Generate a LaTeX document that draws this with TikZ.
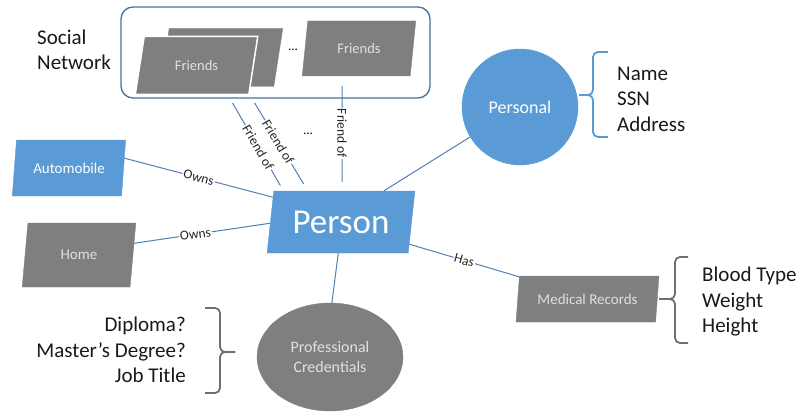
\documentclass[tikz,border=0pt]{standalone}
\usepackage{fontspec}
\setmainfont{Carlito}
\usetikzlibrary{shapes.geometric}
\definecolor{blueF}{HTML}{5B9BD5}
\definecolor{grayF}{HTML}{7F7F7F}
\definecolor{lineC}{HTML}{4F7FB5}
\definecolor{boxC}{HTML}{41719C}
\definecolor{braceG}{HTML}{6F6F6F}
\tikzset{
  para/.style={trapezium, trapezium stretches=true, inner sep=0pt},
  bluebox/.style={fill=blueF, draw=blueF, text=white},
  graybox/.style={fill=grayF, draw=grayF, text=white!88!black},
  conn/.style={draw=lineC, line width=1pt},
  lbl/.style={fill=white, inner sep=1pt, font=\fontsize{13.5}{15}\selectfont, text=black!85},
  listtext/.style={font=\fontsize{21}{25.5}\selectfont, inner sep=0pt, text=black!90},
  bracelook/.style={line width=1.8pt, rounded corners=5pt},
}
\begin{document}
\begin{tikzpicture}[x=1pt,y=-1pt]
\useasboundingbox (0,0) rectangle (804,412);

% Social network container
\node[rounded corners=12pt, draw=boxC, line width=1.3pt, minimum width=309pt, minimum height=91pt] (social) at (275.5,52.5) {};
\node[listtext, align=left, anchor=west] (socialLbl) at (37,50) {Social\\Network};

\node[para, graybox, trapezium left angle=70, trapezium right angle=110, minimum width=123pt, minimum height=58pt, font=\fontsize{14.5}{16}\selectfont] (friendsB) at (221.5,57.5) {\phantom{Friends}};
\node[para, graybox, draw=white, line width=1.5pt, trapezium left angle=70, trapezium right angle=110, minimum width=123pt, minimum height=58pt, font=\fontsize{14.5}{16}\selectfont] (friendsA) at (196.5,65.5) {Friends};
\node[font=\fontsize{13}{14}\selectfont] (dotsA) at (293,50) {...};
\node[para, graybox, trapezium left angle=77, trapezium right angle=103, minimum width=114pt, minimum height=55pt, font=\fontsize{14.5}{16}\selectfont] (friendsC) at (359,48.5) {Friends};

% Main nodes
\node[para, bluebox, trapezium left angle=75, trapezium right angle=105, minimum width=114pt, minimum height=56pt, font=\fontsize{15}{17}\selectfont] (auto) at (69,168) {Automobile};
\node[para, graybox, trapezium left angle=78, trapezium right angle=102, minimum width=114pt, minimum height=64pt, font=\fontsize{15}{17}\selectfont] (home) at (79,255) {Home};
\node[para, bluebox, trapezium left angle=78, trapezium right angle=102, minimum width=148pt, minimum height=62pt, font=\fontsize{35}{38}\selectfont] (person) at (341,222) {Person};
\node[circle, bluebox, minimum size=116pt, inner sep=0pt, font=\fontsize{18}{20}\selectfont] (personal) at (520,107) {Personal};
\node[para, graybox, trapezium left angle=76.5, trapezium right angle=103.5, minimum width=143pt, minimum height=46pt, font=\fontsize{15}{17}\selectfont] (medical) at (587.5,299) {Medical Records};
\node[ellipse, graybox, minimum width=146pt, minimum height=108pt, inner sep=0pt, align=center, font=\fontsize{16}{19.5}\selectfont] (prof) at (330,357) {Professional\\Credentials};

% Lists
\node[listtext, align=left, anchor=west] (personalList) at (617,99) {Name\\SSN\\Address};
\node[listtext, align=left, anchor=west] (medList) at (702,302) {Blood Type\\Weight\\Height};
\node[listtext, align=right, anchor=east] (profList) at (186,350) {Diploma?\\Master’s Degree?\\Job Title};

% Connectors
\draw[conn] (auto.10) -- node[lbl, sloped] {Owns} (person.160);
\draw[conn] (home.12) -- node[lbl, sloped, pos=0.45] {Owns} (person.181);
\draw[conn] (person.-18) -- node[lbl, sloped] {Has} (medical.162);
\draw[conn] (person.36) -- (personal.211);
\draw[conn] (person.265) -- (prof.88);
\draw[conn, shorten <=5pt, shorten >=6pt] ([xshift=-45.5pt]social.south) -- node[lbl, sloped, pos=0.53] {Friend of} ([xshift=-57.6pt]person.north);
\draw[conn, shorten <=5pt, shorten >=8pt] ([xshift=-23.5pt]social.south) -- node[lbl, sloped, pos=0.47] {Friend of} ([xshift=-33.2pt]person.north);
\draw[conn, shorten <=10pt, shorten >=9pt] ([xshift=-17pt]friendsC.south) -- node[lbl, rotate=-90] {Friend of} ([xshift=1pt]person.north);
\node[font=\fontsize{13}{14}\selectfont] (dotsB) at (308,134) {...};

% Braces
\draw[bracelook, draw=blueF] (608,52) -- (593,52) -- (593,95) -- (579,95);
\draw[bracelook, draw=blueF] (608,137) -- (593,137) -- (593,95) -- (579,95);
\draw[bracelook, draw=braceG] (688,257) -- (675,257) -- (675,299) -- (659,299);
\draw[bracelook, draw=braceG] (688,343) -- (675,343) -- (675,299) -- (659,299);
\draw[bracelook, draw=braceG] (205,308) -- (220,308) -- (220,352) -- (235,352);
\draw[bracelook, draw=braceG] (205,393) -- (220,393) -- (220,352) -- (235,352);
\end{tikzpicture}
\end{document}
